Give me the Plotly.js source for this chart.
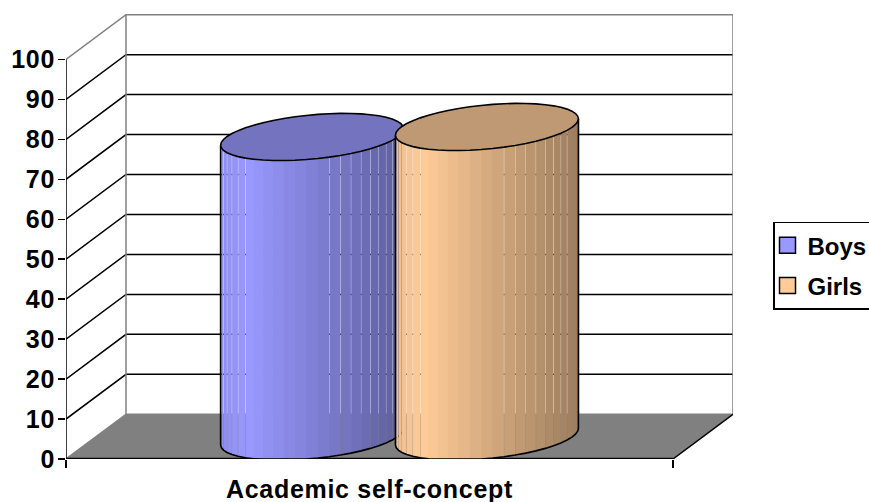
<!DOCTYPE html>
<html>
<head>
<meta charset="utf-8">
<script src="https://cdn.plot.ly/plotly-3.0.1.min.js"></script>
<style>
html,body{margin:0;padding:0;background:#fff;overflow:hidden}
.xtick text,.ytick text{letter-spacing:.7px}
</style>
</head>
<body>
<div id="chart" style="width:869px;height:502px"></div>
<script>
// Chart values
const categories = ['Academic self-concept'];
const seriesNames = ['Boys', 'Girls'];
const boysValues = [75];
const girlsValues = [77.5];
const yTicks = [0, 10, 20, 30, 40, 50, 60, 70, 80, 90, 100];
const gridLevels = [10, 20, 30, 40, 50, 60, 70, 80, 90];
const boysColor = [153, 153, 255];
const girlsColor = [255, 204, 153];

// Oblique projection of the box, in axis units
const DEPTH_X = 60 / 607;
const DEPTH_Y = 11.2;
const X_MAX = 667 / 607;
const Y_MAX = 445.5 / 4;

// Cylinder proportions and facets per half turn
const EDGE_A = 85.7 / 607;
const EDGE_B = 32 / 607;
const EDGE_C = 5.9;
const BAR_OFFSET = 0.144;
const FACETS = 25;
const SEAMS = new Set([1, 2, 3, 4, 5, 6, 14, 15, 16, 17, 18, 19, 20, 21]);
const SEAM_GAP = 0.3 / 607;
const OVERLAP = 0.8 / 607;

const traces = [];
const FONT = 'Liberation Sans, Arial, sans-serif';

function poly(x, y, fill, lineColor, lineWidth) {
  traces.push({
    type: 'scatter', mode: lineColor ? 'lines' : 'none', x, y,
    fill: fill ? 'toself' : 'none', fillcolor: fill || undefined,
    line: { color: lineColor || 'rgba(0,0,0,0)', width: lineWidth || 0, simplify: false },
    cliponaxis: false, showlegend: false, hoverinfo: 'skip'
  });
}

// Walls, floor and axis lines
const grey = '#808080';
poly([0, DEPTH_X, X_MAX, X_MAX - DEPTH_X, 0], [0, DEPTH_Y, DEPTH_Y, 0, 0], grey);
gridLevels.forEach(v => {
  poly([0, DEPTH_X, X_MAX], [v, v + DEPTH_Y, v + DEPTH_Y], null, '#000', 1.5);
});
poly([0, DEPTH_X, X_MAX, X_MAX], [100, 100 + DEPTH_Y, 100 + DEPTH_Y, DEPTH_Y], null, grey, 1.5);
poly([0, DEPTH_X, DEPTH_X], [0, DEPTH_Y, 100 + DEPTH_Y], null, grey, 1.5);
poly([DEPTH_X, X_MAX], [DEPTH_Y, DEPTH_Y], null, grey, 1.5);
poly([1, X_MAX], [0, DEPTH_Y], null, '#000', 1.5);
poly([0, 1], [0, 0], null, '#000', 2.5);
poly([0, 0], [0, 100], null, '#000', 1.5);

function rgb(c, f) {
  return 'rgb(' + c.map(v => Math.round(v * f)).join(',') + ')';
}

function shade(u) {
  return u < 0.15 ? 0.93 + 0.07 * u / 0.15 : 1 - 0.39 * (u - 0.15) / 0.85;
}

// One cylinder: shaded facets, outline, then the lid
function cylinder(category, value, color) {
  const cx = category + DEPTH_X / 2;
  const cy = DEPTH_Y / 2;
  const tilt = Math.atan2(EDGE_B, EDGE_A);
  const px = t => cx + EDGE_A * Math.cos(t) + EDGE_B * Math.sin(t);
  const py = t => EDGE_C * Math.sin(t);
  const low = t => Math.max(0, cy + py(t));
  const high = t => cy + value + py(t);
  const turn = k => Math.PI + tilt + k * Math.PI / FACETS;

  for (let k = 0; k < FACETS; k++) {
    const a = turn(k), b = turn(k + 1);
    const left = px(a) + (SEAMS.has(k) ? SEAM_GAP / 2 : 0);
    const right = px(b) + (SEAMS.has(k + 1) ? -SEAM_GAP / 2 : OVERLAP);
    const u = (1 - Math.cos((k + 0.5) * Math.PI / FACETS)) / 2;
    poly(
      [left, right, right, left, left],
      [low(a), low(b), high(b), high(a), low(a)],
      rgb(color, shade(u))
    );
  }

  const sideX = [], sideY = [];
  sideX.push(px(turn(0))); sideY.push(high(turn(0)));
  for (let k = 0; k <= FACETS; k++) { sideX.push(px(turn(k))); sideY.push(low(turn(k))); }
  sideX.push(px(turn(FACETS))); sideY.push(high(turn(FACETS)));
  poly(sideX, sideY, null, '#000', 1.6);

  const lidX = [], lidY = [];
  for (let k = 0; k <= 2 * FACETS; k++) { lidX.push(px(turn(k))); lidY.push(high(turn(k))); }
  poly(lidX, lidY, rgb(color, 0.75), '#000', 1.6);
}

cylinder(0.5 - BAR_OFFSET, boysValues[0], boysColor);
cylinder(0.5 + BAR_OFFSET, girlsValues[0], girlsColor);

// Legend entries
[[seriesNames[0], boysColor], [seriesNames[1], girlsColor]].forEach(([name, c]) => {
  traces.push({
    type: 'scatter', mode: 'markers', x: [null], y: [null], name, legendgroup: name,
    marker: { symbol: 'square', size: 16, color: rgb(c, 1), line: { color: '#000', width: 1.5 } },
    hoverinfo: 'skip'
  });
});

// Carries the outer tick marks of the category axis
traces.push({
  type: 'scatter', mode: 'none', x: [0, 1], y: [0, 0], xaxis: 'x2', yaxis: 'y',
  showlegend: false, hoverinfo: 'skip'
});

const layout = {
  width: 869, height: 502,
  paper_bgcolor: '#fff', plot_bgcolor: 'rgba(0,0,0,0)',
  margin: { l: 66, r: 136, t: 13.5, b: 43, autoexpand: false },
  showlegend: true,
  xaxis: {
    range: [0, X_MAX], showgrid: false, zeroline: false, showline: false,
    tickmode: 'array', tickvals: [0.5], ticktext: categories, ticks: '',
    tickfont: { family: FONT, size: 25, color: '#000', weight: 700 }, ticklabelstandoff: 13
  },
  xaxis2: {
    overlaying: 'x', anchor: 'y', side: 'bottom', range: [0, X_MAX],
    showgrid: false, zeroline: false, showline: false, showticklabels: false,
    tickmode: 'array', tickvals: [0, 1], ticks: 'outside', ticklen: 8, tickwidth: 1.5, tickcolor: '#000'
  },
  yaxis: {
    range: [0, Y_MAX], showgrid: false, zeroline: false, showline: false,
    tickmode: 'array', tickvals: yTicks, ticks: 'outside', ticklen: 7, tickwidth: 1.5,
    tickcolor: '#000', tickfont: { family: FONT, size: 25, color: '#000', weight: 700 },
    ticklabelstandoff: -2
  },
  legend: {
    xref: 'paper', yref: 'paper', x: (773 - 66) / 667, y: (459 - 221.5) / 445.5,
    xanchor: 'left', yanchor: 'top', indentation: -7,
    bgcolor: '#fff', bordercolor: '#000', borderwidth: 1.5,
    font: { family: FONT, size: 24, color: '#000', weight: 700 }, tracegroupgap: 6
  }
};

Plotly.newPlot('chart', traces, layout, { displayModeBar: false, staticPlot: true });
</script>
</body>
</html>
